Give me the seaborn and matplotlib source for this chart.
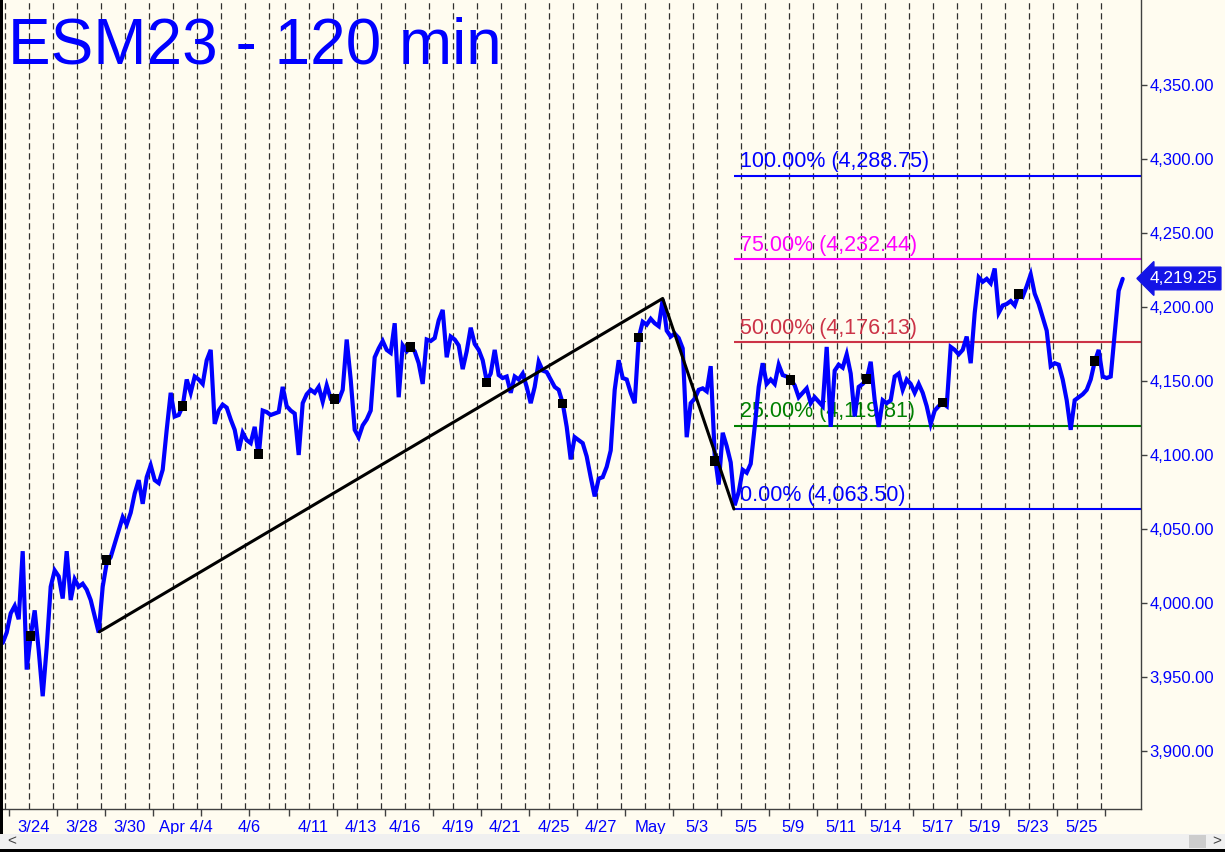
"""ESM23 120-minute chart with ABC projection levels."""

import numpy as np
import pandas as pd
import matplotlib
matplotlib.use("Agg")
import matplotlib.pyplot as plt
import matplotlib.transforms as mtransforms
from matplotlib.patches import Rectangle
from matplotlib.ticker import FuncFormatter
import seaborn as sns

# price path, one value for every two 120-minute bars
mar23_apr04 = [3973, 3980, 3993, 3998, 3989, 4035, 3955, 3978, 3995, 3968,
               3937, 3970, 4011, 4022, 4018, 4003, 4035, 4002, 4016, 4011,
               4013, 4009, 4002, 3991, 3980, 4011, 4027, 4031, 4040, 4049,
               4058, 4053, 4061, 4074, 4083, 4067, 4085, 4093, 4083, 4081,
               4090, 4117, 4142, 4126, 4127, 4133, 4151, 4142, 4153, 4151,
               4148, 4164, 4171, 4121, 4130]
apr05_apr19 = [4134, 4132, 4124, 4117, 4103, 4115, 4110, 4108, 4119, 4099,
               4130, 4129, 4127, 4128, 4129, 4146, 4133, 4130, 4128, 4100,
               4135, 4141, 4144, 4142, 4146, 4136, 4147, 4138, 4138, 4137,
               4144, 4178, 4151, 4117, 4112, 4120, 4124, 4130, 4166, 4172,
               4177, 4171, 4169, 4189, 4139, 4174, 4170, 4173, 4170, 4162,
               4148, 4178, 4177, 4179, 4191, 4198, 4166, 4180, 4178, 4174]
apr20_may02 = [4158, 4170, 4186, 4175, 4171, 4164, 4150, 4155, 4171, 4154,
               4152, 4153, 4142, 4153, 4151, 4155, 4146, 4135, 4146, 4163,
               4157, 4156, 4151, 4146, 4144, 4135, 4119, 4097, 4112, 4110,
               4108, 4099, 4085, 4072, 4084, 4085, 4092, 4103, 4144, 4164,
               4152, 4151, 4142, 4135, 4179, 4190, 4188, 4192, 4189, 4187,
               4205, 4184, 4180, 4182, 4179]
may03_may15 = [4172, 4112, 4135, 4138, 4144, 4145, 4143, 4160, 4100, 4080,
               4115, 4106, 4095, 4066, 4075, 4090, 4088, 4094, 4119, 4146,
               4162, 4148, 4151, 4148, 4161, 4154, 4153, 4151, 4147, 4139,
               4142, 4145, 4135, 4139, 4136, 4133, 4173, 4119, 4157, 4161,
               4159, 4168, 4155, 4126, 4146, 4148, 4151, 4163, 4137, 4119,
               4137, 4135, 4137, 4153, 4155, 4144, 4151]
may16_may26 = [4148, 4142, 4148, 4142, 4133, 4121, 4130, 4133, 4135, 4133,
               4173, 4171, 4168, 4171, 4180, 4162, 4196, 4220, 4217, 4219,
               4216, 4226, 4196, 4201, 4202, 4204, 4201, 4209, 4207, 4214,
               4222, 4209, 4202, 4193, 4184, 4160, 4162, 4161, 4151, 4137,
               4117, 4137, 4139, 4141, 4144, 4151, 4163, 4171, 4153, 4152,
               4153, 4182, 4211, 4219]
last_price = 4219.25

# bars in each session between the dashed separators (Good Friday is short)
session_bars = [12] * 11 + [8] + [12] * 34
first_session_bar = 2

date_labels = ['3/24', '3/28', '3/30', 'Apr 4/4', '4/6', '4/11', '4/13', '4/16',
               '4/19', '4/21', '4/25', '4/27', 'May', '5/3', '5/5', '5/9',
               '5/11', '5/14', '5/17', '5/19', '5/23', '5/25']
date_ticks = [16.6, 40.2, 64.2, 92.7, 124.2, 156.2, 180.2, 202.2, 228.4, 252.2,
              276.5, 300.2, 324.7, 348.2, 372.4, 396.2, 420.2, 442.2, 468.2,
              492.2, 516.2, 540.4]

# ABC swing and projected targets
abc_bars = [49.3, 331.0, 366.6]
abc_prices = [3980.50, 4205.75, 4063.50]
fib_pcts = ['100.00%', '75.00%', '50.00%', '25.00%', '0.00%']
fib_levels = [4288.75, 4232.44, 4176.13, 4119.81, 4063.50]
fib_colors = ['#0000ff', '#ff00ff', '#cc3347', '#008000', '#0000ff']

# black square marks on the price line
marker_bars = [15, 53, 91, 129, 167, 205, 243, 281, 319, 357, 395, 433, 471, 509, 547]
marker_prices = [3977.7, 4029.0, 4133.1, 4100.7, 4137.8, 4173.0, 4149.1, 4134.9,
                 4179.5, 4095.9, 4150.7, 4151.3, 4135.6, 4208.8, 4163.5]

y_ticks = np.arange(3900, 4351, 50)

BG = '#fffcf0'
BLUE = '#0000ff'

sns.set_theme(style='white', rc={'axes.facecolor': BG, 'figure.facecolor': BG})
plt.rcParams['font.family'] = ['Liberation Sans', 'DejaVu Sans']

closes = mar23_apr04 + apr05_apr19 + apr20_may02 + may03_may15 + may16_may26
df = pd.DataFrame({'bar': np.arange(len(closes)) * 2 + 1, 'price': closes})
session_start = first_session_bar + np.concatenate([[0], np.cumsum(session_bars)])

W, H = 1225, 852
fig = plt.figure(figsize=(W / 100, H / 100), dpi=100)
ax = fig.add_axes([3 / W, 43 / H, 1138 / W, 809 / H])
x_lo, x_hi = 1.15, 570.15
ax.set_xlim(x_lo, x_hi)
ax.set_ylim(3860.8, 4407.4)

for s in session_start:
    ax.axvline(s, color='#303030', lw=0.9, ls=(0, (5, 3)), zorder=1)

ax.hlines(fib_levels, abc_bars[2], x_hi, colors=fib_colors, lw=1.5, zorder=2)
for pct, lvl, c in zip(fib_pcts, fib_levels, fib_colors):
    ax.annotate(f'{pct} ({lvl:,.2f})', xy=(abc_bars[2], lvl), xytext=(4.5, 6),
                textcoords='offset points', color=c, fontsize=15.5,
                ha='left', va='baseline', zorder=2)

sns.lineplot(data=df, x='bar', y='price', ax=ax, color=BLUE, lw=3.0,
             estimator=None, zorder=3, solid_joinstyle='miter')
ax.plot(abc_bars, abc_prices, color='black', lw=2.2, zorder=4)
sns.scatterplot(x=marker_bars, y=marker_prices, ax=ax, marker='s', s=45,
                color='black', edgecolor='none', zorder=5)

# axes styling
ax.set_xlabel('')
ax.set_ylabel('')
ax.yaxis.tick_right()
ax.set_yticks(y_ticks)
ax.yaxis.set_major_formatter(FuncFormatter(lambda v, _: f'{v:,.2f}'))
ax.tick_params(axis='y', direction='out', length=4, width=1, color='#404040',
               labelcolor=BLUE, labelsize=12, pad=2)
ax.set_xticks(date_ticks, date_labels)
ax.set_xticks(session_start[::2] + 2, minor=True)
ax.tick_params(axis='x', which='major', length=0, pad=8, labelcolor=BLUE, labelsize=12)
ax.tick_params(axis='x', which='minor', length=5, width=1, direction='out',
               color='#404040', bottom=True)
for side in ['top', 'left']:
    ax.spines[side].set_visible(False)
for side in ['bottom', 'right']:
    ax.spines[side].set_color('#404040')
    ax.spines[side].set_linewidth(1)

# last price flag on the axis
trans = mtransforms.blended_transform_factory(ax.transAxes, ax.transData)
ax.annotate(f'{last_price:,.2f}', xy=(1.0, last_price), xycoords=trans,
            xytext=(6, 0), textcoords='offset points', color='white', fontsize=12.5,
            ha='left', va='center', annotation_clip=False,
            bbox=dict(boxstyle='larrow,pad=0.22', fc='#1414e6', ec='#1414e6'))

fig.text(8 / W, 1 - 63 / H, 'ESM23 - 120 min', fontsize=46, color=BLUE,
         ha='left', va='baseline')

# window frame and scroll bar
fig.add_artist(Rectangle((0, 3 / H), 1, 15 / H, transform=fig.transFigure,
                         fc='#f0f0f0', ec='none'))
fig.add_artist(Rectangle((1189 / W, 4 / H), 17 / W, 13 / H, transform=fig.transFigure,
                         fc='#cdcdcd', ec='none'))
fig.add_artist(Rectangle((0, 0), 1, 3 / H, transform=fig.transFigure, fc='black', ec='none'))
fig.add_artist(Rectangle((0, 18 / H), 3 / W, 1, transform=fig.transFigure,
                         fc='black', ec='none'))
fig.text(7 / W, 10.5 / H, '<', fontsize=11, color='#404040', va='center')
fig.text(1212 / W, 10.5 / H, '>', fontsize=11, color='#404040', va='center')

fig.savefig('out.png', dpi=100, facecolor=BG)
